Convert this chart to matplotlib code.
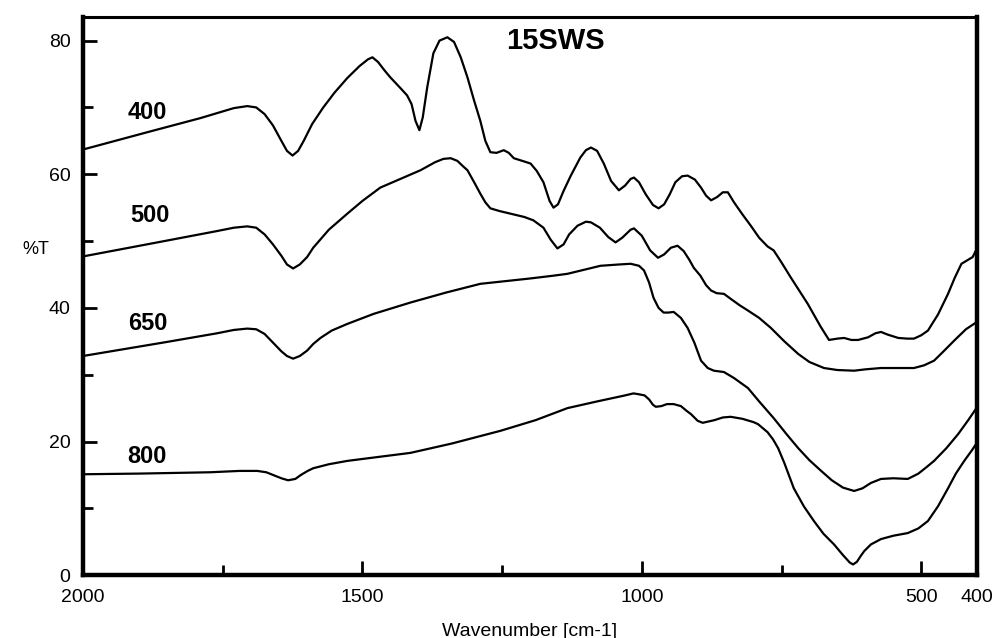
import numpy as np
import matplotlib.pyplot as plt
from matplotlib.ticker import MultipleLocator, FixedLocator

plt.rcParams['font.family'] = ['Liberation Sans', 'DejaVu Sans']

## spectres FTIR 15SWS (nombre d'onde en cm-1, %T)
wn_400 = [2000, 1880, 1790, 1730, 1706, 1690, 1675, 1660, 1645, 1635, 1625, 1615, 1605, 1590,
          1570, 1550, 1527, 1505, 1490, 1482, 1472, 1460, 1450, 1432, 1420, 1412, 1405, 1398,
          1392, 1384, 1373, 1362, 1348, 1336, 1324, 1312, 1300, 1289, 1280, 1271, 1260, 1247,
          1238, 1229, 1210, 1199, 1188, 1176, 1165, 1158, 1150, 1140, 1127, 1110, 1100, 1091,
          1080, 1068, 1055, 1041, 1030, 1020, 1014, 1005, 993, 980, 970, 960, 950, 940, 928,
          918, 905, 894, 885, 876, 865, 855, 846, 835, 820, 805, 790, 775, 764, 750, 733, 703,
          680, 665, 650, 638, 625, 613, 595, 582, 572, 560, 541, 525, 513, 500, 488, 470, 452,
          440, 428, 416, 408, 402]
t_400 = [63.7, 66.4, 68.4, 69.9, 70.2, 70.0, 69.0, 67.3, 65.0, 63.5, 62.8, 63.5, 65.0, 67.5,
         70.0, 72.2, 74.4, 76.2, 77.2, 77.5, 76.8, 75.5, 74.5, 72.9, 71.8, 70.5, 68.0, 66.6,
         68.5, 73.0, 78.1, 80.0, 80.5, 79.8, 77.5, 74.5, 71.0, 68.0, 65.0, 63.3, 63.2, 63.6,
         63.2, 62.4, 61.9, 61.6, 60.5, 58.8, 56.0, 55.0, 55.5, 57.5, 59.8, 62.5, 63.6, 64.0,
         63.5, 61.6, 59.0, 57.6, 58.3, 59.3, 59.5, 58.8, 57.0, 55.4, 54.9, 55.5, 57.0, 58.8,
         59.7, 59.8, 59.2, 58.0, 56.8, 56.1, 56.6, 57.3, 57.3, 55.8, 54.0, 52.3, 50.5, 49.2,
         48.6, 46.8, 44.5, 40.6, 37.2, 35.2, 35.4, 35.5, 35.2, 35.2, 35.6, 36.2, 36.4, 36.0,
         35.5, 35.4, 35.4, 35.9, 36.6, 39.0, 42.1, 44.5, 46.6, 47.2, 47.6, 48.6]

wn_500 = [2000, 1867, 1760, 1730, 1706, 1690, 1675, 1660, 1645, 1635, 1624, 1612, 1599, 1588,
          1560, 1527, 1500, 1468, 1432, 1396, 1370, 1355, 1342, 1330, 1320, 1312, 1300, 1289,
          1280, 1271, 1255, 1235, 1210, 1194, 1176, 1163, 1151, 1140, 1130, 1115, 1100, 1091,
          1075, 1060, 1047, 1035, 1020, 1014, 1000, 985, 971, 960, 948, 936, 925, 915, 907, 895,
          885, 876, 866, 853, 840, 825, 810, 790, 769, 745, 720, 700, 674, 650, 620, 600, 572,
          540, 513, 495, 477, 460, 441, 420, 402]
t_500 = [47.7, 49.8, 51.5, 52.0, 52.2, 52.0, 51.0, 49.5, 47.8, 46.5, 45.9, 46.5, 47.6, 49.0,
         51.7, 54.1, 56.0, 58.0, 59.3, 60.6, 61.8, 62.3, 62.4, 62.0, 61.2, 60.6, 58.8, 57.1,
         55.8, 54.9, 54.5, 54.1, 53.6, 53.1, 52.0, 50.2, 48.9, 49.5, 51.0, 52.3, 52.9, 52.8,
         52.0, 50.6, 49.8, 50.5, 51.7, 51.9, 50.8, 48.6, 47.5, 48.0, 49.0, 49.3, 48.5, 47.2,
         46.0, 44.8, 43.4, 42.6, 42.2, 42.1, 41.3, 40.4, 39.6, 38.5, 37.0, 35.0, 33.1, 31.9,
         31.0, 30.7, 30.6, 30.8, 31.0, 31.0, 31.0, 31.4, 32.1, 33.5, 35.1, 36.8, 37.8]

wn_650 = [2000, 1850, 1760, 1730, 1706, 1690, 1675, 1660, 1645, 1635, 1624, 1612, 1599, 1588,
          1575, 1555, 1527, 1480, 1414, 1350, 1289, 1200, 1160, 1133, 1074, 1040, 1020, 1005,
          996, 987, 979, 970, 961, 952, 943, 930, 918, 906, 894, 882, 871, 853, 835, 810, 790,
          764, 740, 720, 700, 679, 660, 640, 620, 605, 590, 572, 550, 524, 505, 490, 477, 455,
          434, 415, 402]
t_650 = [32.8, 34.9, 36.2, 36.7, 36.9, 36.8, 36.1, 34.8, 33.5, 32.8, 32.4, 32.8, 33.6, 34.6,
         35.5, 36.6, 37.6, 39.1, 40.8, 42.3, 43.6, 44.4, 44.8, 45.1, 46.3, 46.5, 46.6, 46.3,
         45.6, 43.8, 41.5, 40.0, 39.3, 39.3, 39.4, 38.5, 37.0, 34.8, 32.1, 31.0, 30.6, 30.4,
         29.5, 28.0, 26.0, 23.5, 21.0, 19.0, 17.2, 15.6, 14.2, 13.1, 12.6, 13.0, 13.8, 14.4,
         14.5, 14.4, 15.2, 16.2, 17.1, 19.0, 21.1, 23.3, 24.9]

wn_800 = [2000, 1900, 1772, 1720, 1688, 1672, 1660, 1645, 1633, 1620, 1610, 1598, 1588, 1560,
          1527, 1480, 1414, 1340, 1253, 1190, 1133, 1080, 1030, 1015, 1007, 995, 987, 980, 975,
          965, 955, 943, 930, 920, 912, 900, 891, 870, 855, 841, 820, 800, 792, 775, 765, 756,
          745, 728, 710, 692, 675, 656, 640, 628, 622, 615, 608, 602, 590, 572, 550, 524, 505,
          488, 470, 452, 438, 423, 410, 402]
t_800 = [15.1, 15.2, 15.4, 15.6, 15.6, 15.4, 15.0, 14.5, 14.2, 14.4, 15.0, 15.6, 16.0, 16.6,
         17.1, 17.6, 18.3, 19.7, 21.6, 23.2, 25.0, 26.0, 26.9, 27.2, 27.1, 26.9, 26.3, 25.5,
         25.2, 25.3, 25.6, 25.6, 25.3, 24.6, 24.1, 23.1, 22.8, 23.2, 23.6, 23.7, 23.4, 22.9,
         22.6, 21.4, 20.3, 19.0, 16.8, 13.0, 10.3, 8.1, 6.2, 4.6, 3.0, 1.9, 1.6, 2.0, 2.9, 3.6,
         4.6, 5.4, 5.9, 6.3, 7.0, 8.1, 10.3, 13.0, 15.2, 17.1, 18.6, 19.6]

etiquettes = ["400", "500", "650", "800"]
pos_etiq = [(1884, 69.3), (1880, 53.8), (1884, 37.6), (1886, 17.8)]

fig = plt.figure(figsize=(9.95, 6.38), dpi=100)
ax = fig.add_axes([0.0834, 0.0985, 0.8986, 0.8745])

for wn, t in [(wn_400, t_400), (wn_500, t_500), (wn_650, t_650), (wn_800, t_800)]:
    ax.plot(wn, t, color="black", lw=1.6, solid_joinstyle="round")

for lab, (x, y) in zip(etiquettes, pos_etiq):
    ax.text(x, y, lab, fontsize=17, fontweight="bold", ha="center", va="center")

ax.text(1154, 80.0, "15SWS", fontsize=21, fontweight="bold", ha="center", va="center")

ax.set_xlim(2000, 400)
ax.set_ylim(0, 83.5)
ax.xaxis.set_major_locator(FixedLocator([2000, 1500, 1000, 500, 400]))
ax.xaxis.set_minor_locator(FixedLocator([1750, 1250, 750]))
ax.yaxis.set_major_locator(MultipleLocator(20))
ax.yaxis.set_minor_locator(MultipleLocator(10))
ax.tick_params(which="both", direction="in", width=2, labelsize=14, top=False, right=False)
ax.tick_params(which="major", length=10)
ax.tick_params(which="minor", length=7)
ax.tick_params(axis="x", which="major", pad=10)
ax.tick_params(axis="y", which="major", pad=9)

for s in ax.spines.values():
    s.set_linewidth(3.2)
ax.spines["top"].set_linewidth(2.2)

ax.set_xlabel("Wavenumber [cm-1]", fontsize=14, labelpad=12)
fig.text(0.022, 1 - 250 / 638, "%T", fontsize=13, ha="left", va="center")

fig.savefig("out.png", dpi=100)
